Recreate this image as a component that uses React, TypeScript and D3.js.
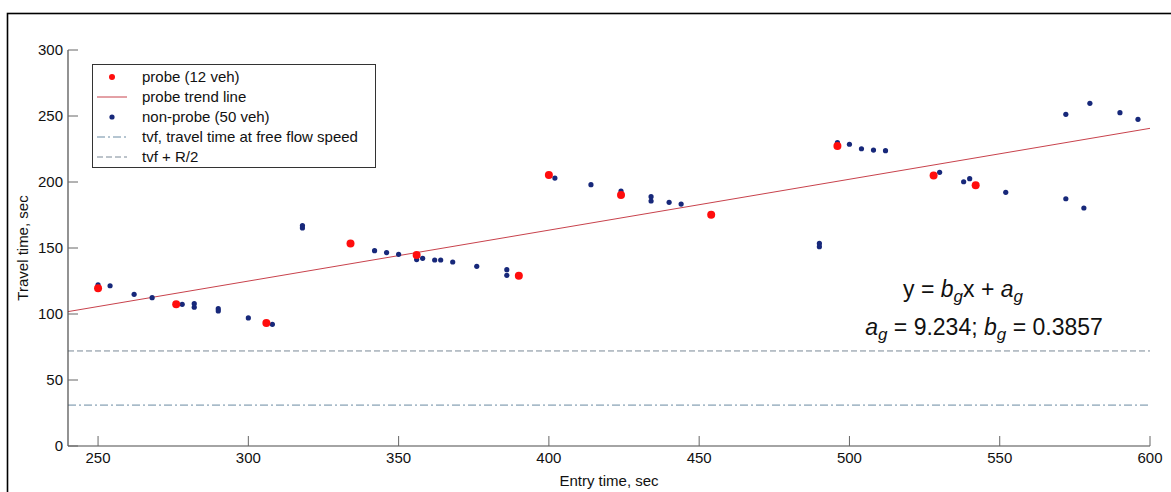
import React from "react";
import * as d3 from "d3";

const probeX = [250, 276, 306, 334, 356, 390, 400, 424, 454, 496, 528, 542];
const probeY = [119.5, 107.3, 93.2, 153.5, 144.7, 129, 205.3, 190.2, 175.2, 227.3, 205, 197.5];

const nonProbeX = [
  250, 254, 262, 268, 278, 282, 282, 290, 290, 300, 308,
  318, 318,
  342, 346, 350, 356, 358, 362, 364, 368, 376, 386, 386, 402,
  414, 424, 434, 434, 440, 444, 490, 490,
  496, 500, 504, 508, 512, 530, 538, 540, 552, 572, 580, 590, 596, 572, 578,
];
const nonProbeY = [
  122, 121.4, 114.9, 112.4, 107.3, 107.8, 105.1, 104, 102.3, 97, 92.2,
  167, 165.2,
  148, 146.5, 145.2, 141.2, 142.2, 140.9, 140.9, 139.4, 136.1, 133.6, 129.3, 203,
  198, 193.2, 188.9, 185.6, 184.6, 183.3, 153.5, 151,
  229.8, 228.6, 225.2, 224.2, 223.7, 207.3, 200.2, 202.5, 192.2, 251.3, 259.6, 252.5, 247.5, 187.3, 180.3,
];

const ag = 9.234;
const bg = 0.3857;
const tvf = 31;
const tvfR2 = 72;

const xTicks = [250, 300, 350, 400, 450, 500, 550, 600];
const yTicks = [0, 50, 100, 150, 200, 250, 300];
const xDomain = [240, 600];
const yDomain = [0, 300];

const legendLabels = [
  "probe (12 veh)",
  "probe trend line",
  "non-probe (50 veh)",
  "tvf, travel time at free flow speed",
  "tvf + R/2",
];

const W = 1171;
const H = 492;
const FONT = "'Liberation Sans', Arial, sans-serif";
const RED = "#ff0d0d";
const BLUE = "#17287a";
const TREND = "#c8424c";
const DASH_COL = "#7a8896";
const DASHDOT_COL = "#6a8ba3";

export default function App() {
  const x = d3.scaleLinear().domain(xDomain).range([68, 1150]);
  const y = d3.scaleLinear().domain(yDomain).range([446, 50]);
  const line = d3
    .line<number>()
    .x((d) => x(d))
    .y((d) => y(bg * d + ag));
  const trendXs = xDomain;

  const legX = 92;
  const legY = 64;
  const legW = 283;
  const legH = 103;
  const rowY = (i: number) => legY + 13 + i * 20;

  return (
    <svg
      width={W}
      height={H}
      style={{ position: "absolute", left: 0, top: 0, background: "#fff" }}
      fontFamily={FONT}
    >
      <rect x={0} y={0} width={W} height={H} fill="#fff" />
      <rect x={7.5} y={13.5} width={W + 20} height={H + 20} fill="none" stroke="#000" strokeWidth={1.6} />

      {/* reference lines */}
      <line x1={x(240)} x2={x(600)} y1={y(tvfR2)} y2={y(tvfR2)} stroke={DASH_COL} strokeWidth={1} strokeDasharray="6,3" />
      <line x1={x(240)} x2={x(600)} y1={y(tvf)} y2={y(tvf)} stroke={DASHDOT_COL} strokeWidth={1} strokeDasharray="8,3,2,3" />

      {/* trend line */}
      <path d={line(trendXs) || ""} fill="none" stroke={TREND} strokeWidth={1} />

      {/* non-probe points */}
      {nonProbeX.map((vx, i) => (
        <circle key={"b" + i} cx={x(vx)} cy={y(nonProbeY[i])} r={2.6} fill={BLUE} />
      ))}
      {/* probe points */}
      {probeX.map((vx, i) => (
        <circle key={"r" + i} cx={x(vx)} cy={y(probeY[i])} r={4} fill={RED} />
      ))}

      {/* axes */}
      <line x1={x(240)} x2={x(240)} y1={y(300)} y2={y(0)} stroke="#4a4a4a" strokeWidth={1.2} />
      <line x1={x(240)} x2={x(600)} y1={y(0)} y2={y(0)} stroke="#4a4a4a" strokeWidth={1.2} />
      {yTicks.map((t) => (
        <g key={"yt" + t}>
          <line x1={x(240)} x2={x(240) + 10} y1={y(t)} y2={y(t)} stroke="#666" strokeWidth={1} />
          <text x={x(240) - 5} y={y(t)} dy="0.35em" textAnchor="end" fontSize={15} fill="#111">
            {t}
          </text>
        </g>
      ))}
      {xTicks.map((t) => (
        <g key={"xt" + t}>
          <line x1={x(t)} x2={x(t)} y1={y(0)} y2={y(0) - 10} stroke="#666" strokeWidth={1} />
          <text x={x(t)} y={463} textAnchor="middle" fontSize={15} fill="#111">
            {t}
          </text>
        </g>
      ))}
      <text x={(x(240) + x(600)) / 2} y={486} textAnchor="middle" fontSize={15} fill="#111">
        Entry time, sec
      </text>
      <text
        transform={`translate(28, ${(y(0) + y(300)) / 2}) rotate(-90)`}
        textAnchor="middle"
        fontSize={15}
        fill="#111"
      >
        Travel time, sec
      </text>

      {/* legend */}
      <rect x={legX + 0.5} y={legY + 0.5} width={legW} height={legH} fill="#fff" stroke="#333" strokeWidth={1} />
      <circle cx={112} cy={rowY(0)} r={3} fill={RED} />
      <line x1={97} x2={127} y1={rowY(1)} y2={rowY(1)} stroke={TREND} strokeWidth={1} />
      <circle cx={112} cy={rowY(2)} r={2.6} fill={BLUE} />
      <line x1={97} x2={127} y1={rowY(3)} y2={rowY(3)} stroke={DASHDOT_COL} strokeWidth={1} strokeDasharray="8,3,2,3" />
      <line x1={97} x2={127} y1={rowY(4)} y2={rowY(4)} stroke={DASH_COL} strokeWidth={1} strokeDasharray="6,3" />
      {legendLabels.map((l, i) => (
        <text key={l} x={142} y={rowY(i)} dy="0.35em" fontSize={15} fill="#111">
          {l}
        </text>
      ))}

      {/* equation */}
      <text x={963} y={297} textAnchor="middle" fontSize={23} fill="#111">
        <tspan>y = </tspan>
        <tspan fontStyle="italic">b</tspan>
        <tspan fontStyle="italic" fontSize={17} dy={5}>g</tspan>
        <tspan dy={-5}>x + </tspan>
        <tspan fontStyle="italic">a</tspan>
        <tspan fontStyle="italic" fontSize={17} dy={5}>g</tspan>
      </text>
      <text x={984} y={335} textAnchor="middle" fontSize={23} fill="#111">
        <tspan fontStyle="italic">a</tspan>
        <tspan fontStyle="italic" fontSize={17} dy={5}>g</tspan>
        <tspan dy={-5}> = 9.234; </tspan>
        <tspan fontStyle="italic">b</tspan>
        <tspan fontStyle="italic" fontSize={17} dy={5}>g</tspan>
        <tspan dy={-5}> = 0.3857</tspan>
      </text>
    </svg>
  );
}
